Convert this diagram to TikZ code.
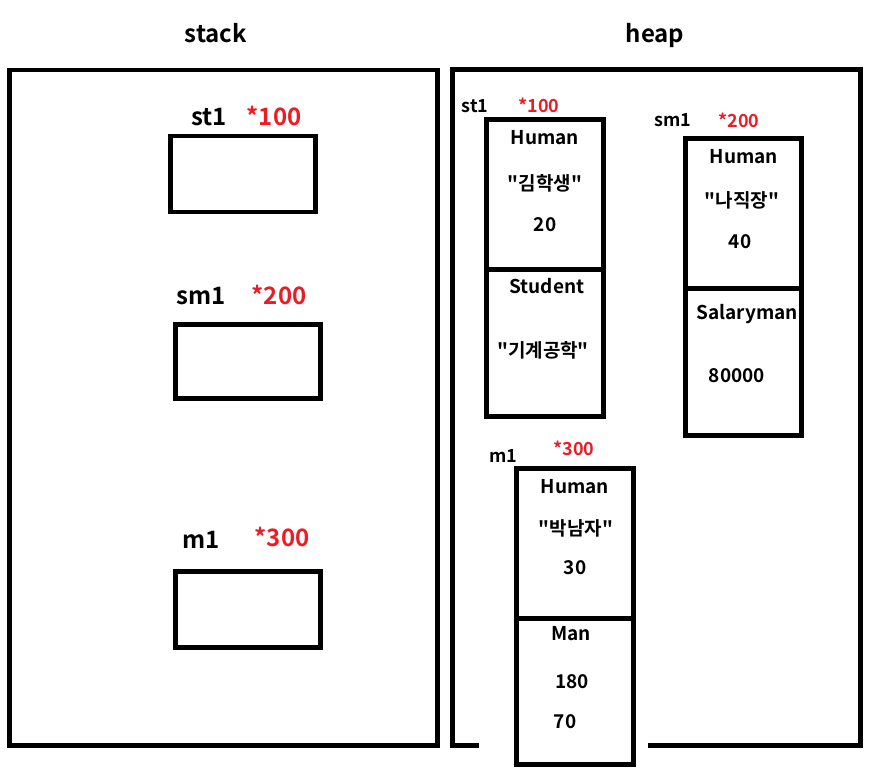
\documentclass[tikz,border=0pt]{standalone}
\usepackage{fontspec}
\setmainfont{Noto Sans CJK KR}[BoldFont={Noto Sans CJK KR Bold},Ligatures=TeXOff]
\definecolor{addrred}{RGB}{237,28,36}
\newcommand\dq{\symbol{34}}
\tikzset{every node/.style={inner sep=0pt,outer sep=0pt}}
\tikzset{cell/.style={rectangle,draw,line width=4.5pt}}
\tikzset{t/.style={anchor=base,font=\fontsize{19}{22}\selectfont\bfseries}}
\tikzset{big/.style={anchor=base,font=\fontsize{24}{28}\selectfont\bfseries}}
\tikzset{small/.style={anchor=base,font=\fontsize{18}{21}\selectfont\bfseries}}
\tikzset{addr/.style={text=addrred}}

\begin{document}
\begin{tikzpicture}[x=1pt,y=-1pt]
      \useasboundingbox (0,0) rectangle (871,774);
      \node[big] (stackT) at (216,42) {stack};
      \node[big] (heapT) at (655,42) {heap};
      \draw[line width=4.5pt] (9.5,70) rectangle (437.5,745.5);
      \draw[line width=4.5pt] (479,745.5) -- (452.5,745.5) -- (452.5,69.5)
        -- (860.5,69.5) -- (860.5,745.5) -- (648,745.5);
      \node[cell,minimum width=145pt,minimum height=76pt] (stST) at (243,174) {};
      \node[cell,minimum width=145pt,minimum height=74pt] (stSM) at (248,361.5) {};
      \node[cell,minimum width=145pt,minimum height=76pt] (stM) at (248,609.5) {};
      \node[big] (stSTn) at (209,125) {st1};
      \node[big,addr] (stSTa) at (274,125) {*100};
      \node[big] (stSMn) at (201,304) {sm1};
      \node[big,addr] (stSMa) at (279,304) {*200};
      \node[big] (stMn) at (201,548) {m1};
      \node[big,addr] (stMa) at (282,546) {*300};
      \node[cell,minimum width=117pt,minimum height=150pt] (hpST1) at (545,194.5) {};
      \node[cell,minimum width=117pt,minimum height=147pt] (hpST2) at (545,343) {};
      \node[cell,minimum width=116pt,minimum height=150pt] (hpSM1) at (743.5,213.5) {};
      \node[cell,minimum width=116pt,minimum height=147pt] (hpSM2) at (743.5,362) {};
      \node[cell,minimum width=117pt,minimum height=150pt] (hpM1) at (575,543.5) {};
      \node[cell,minimum width=117pt,minimum height=146pt] (hpM2) at (575,691.5) {};
      \node[small] (hpSTn) at (475,112) {st1};
      \node[small,addr] (hpSTa) at (539,112) {*100};
      \node[small] (hpSMn) at (673,126) {sm1};
      \node[small,addr] (hpSMa) at (739,127) {*200};
      \node[small] (hpMn) at (503,462) {m1};
      \node[small,addr] (hpMa) at (574,455) {*300};
      \foreach \n/\x/\y/\s in {a/545/144/Human,b/545/190/\dq 김학생\dq,c/545/231/20,
        d/547/293/Student,e/543/357/\dq 기계공학\dq,
        f/744/163/Human,g/742/207/\dq 나직장\dq,h/740/248/40,
        i/747/319/Salaryman,j/737/382/80000,
        k/575/493/Human,l/576/535/\dq 박남자\dq,m/575/574/30,
        n/571/640/Man,o/572/688/180,p/565/728/70}
        \node[t] (f\n) at (\x,\y) {\s};
    \end{tikzpicture}
\end{document}
